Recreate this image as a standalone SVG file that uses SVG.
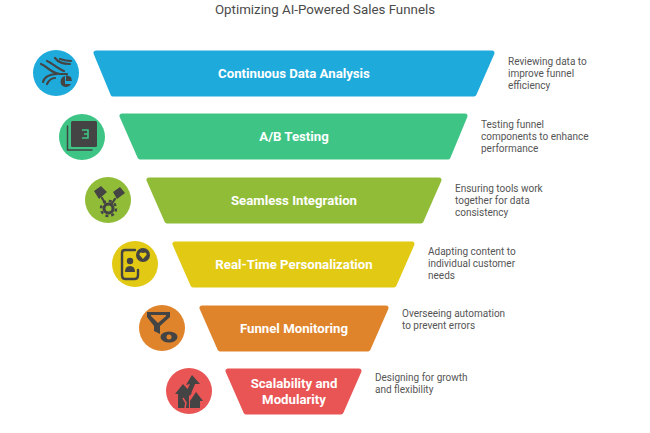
<svg xmlns="http://www.w3.org/2000/svg" width="650" height="433" viewBox="0 0 650 433">
<style>
text{font-family:Roboto,"Liberation Sans",sans-serif}
.t{font-size:13.300px;fill:#4a4a4a;text-anchor:middle}
.l{font-size:13.200px;font-weight:700;fill:#fff;text-anchor:middle}
.d{font-size:10px;fill:#555}
.i{fill:#444}
.s{fill:none;stroke:#444;stroke-linecap:round;stroke-width:2.200}
.f{stroke-linejoin:round;stroke-width:5}
</style>
<rect width="650" height="433" fill="#fff"/>
<text class="t" x="325" y="14">Optimizing AI-Powered Sales Funnels</text>
<g id="n1">
<path class="f" fill="#1faadc" stroke="#1faadc" d="M96 53H492L474 94H113Z"/>
<text class="l" x="294" y="78">Continuous Data Analysis</text>
<circle cx="56" cy="73" r="23" fill="#1faadc"/>
<path class="s" d="M47 61C52 63 58 69 64 71M55 58C58 62 64 64 70 64M60 59C63 60 68 61 71 61M41 64C47 66 50 73 60 74H67M43 82C44 77 50 74 57 74M47 84C49 80 52 78 55 78"/>
<path class="i" d="M66 76A5.500 5.500 0 1 0 71 84H65V76Z M66 75L71 77L72 81L66 81Z"/>
<text class="d" x="508" y="65">Reviewing data to</text><text class="d" x="508" y="77">improve funnel</text><text class="d" x="508" y="89">efficiency</text>
</g>
<g id="n2">
<path class="f" fill="#3ec585" stroke="#3ec585" d="M122 116H465L448 157H140Z"/>
<text class="l" x="294" y="141">A/B Testing</text>
<circle cx="82" cy="137" r="23" fill="#3ec585"/>
<rect class="i" x="71" y="121" width="26" height="26" rx="1.500"/>
<path class="s" d="M67.500 126V150H92" style="stroke-width:1.500"/>
<path d="M82 130H88V138H82M84 134H88" fill="none" stroke="#3ec585" stroke-width="1.600"/>
<text class="d" x="481" y="128">Testing funnel</text><text class="d" x="481" y="140">components to enhance</text><text class="d" x="481" y="152">performance</text>
</g>
<g id="n3">
<path class="f" fill="#90bc38" stroke="#90bc38" d="M149 180H439L421 221H167Z"/>
<text class="l" x="294" y="205">Seamless Integration</text>
<circle cx="108" cy="200" r="23" fill="#90bc38"/>
<path class="i" d="M94 191L101 186L107 192L99 199Z M113 192L120 187L125 193L117 199Z"/>
<path class="s" d="M102 198L105 203M115 199L112 203" stroke-dasharray="2 1.500"/>
<circle cx="108.500" cy="208.500" r="4.500" fill="none" stroke="#444" stroke-width="3"/>
<circle cx="108.500" cy="208.500" r="7.500" fill="none" stroke="#444" stroke-width="2.500" stroke-dasharray="3 2.900"/>
<text class="d" x="455" y="192">Ensuring tools work</text><text class="d" x="455" y="204">together for data</text><text class="d" x="455" y="216">consistency</text>
</g>
<g id="n4">
<path class="f" fill="#e2c914" stroke="#e2c914" d="M175 244H412L394 285H193Z"/>
<text class="l" x="294" y="269">Real-Time Personalization</text>
<circle cx="135" cy="264" r="23" fill="#e2c914"/>
<path class="s" style="stroke-width:2.400" d="M135 250H125Q122 250 122 253V275Q122 279 125 279H135Q138 279 138 275V270"/>
<circle class="i" cx="130" cy="261" r="3.200"/>
<path class="i" d="M125 272Q125 266 130 266Q135 266 135 272Z"/>
<circle cx="143" cy="255" r="7" fill="#444"/>
<path d="M143 259L139.500 255Q139 251.500 143 253Q147 251.500 146.500 255Z" fill="#e2c914"/>
<text class="d" x="428" y="255">Adapting content to</text><text class="d" x="428" y="267">individual customer</text><text class="d" x="428" y="279">needs</text>
</g>
<g id="n5">
<path class="f" fill="#e0842c" stroke="#e0842c" d="M202 308H386L368 349H220Z"/>
<text class="l" x="294" y="333">Funnel Monitoring</text>
<circle cx="162" cy="328" r="23" fill="#e0842c"/>
<path class="i" d="M147 312H170V317L160 326V334L154 331V326L147 317Z"/>
<path d="M151 315H166V316L158 323L151 316Z" fill="#e0842c"/>
<ellipse class="i" cx="169" cy="337" rx="8.500" ry="5.500"/>
<circle cx="169" cy="337" r="2.500" fill="#e0842c"/>
<text class="d" x="402" y="317">Overseeing automation</text><text class="d" x="402" y="329">to prevent errors</text>
</g>
<g id="n6">
<path class="f" fill="#e95455" stroke="#e95455" d="M228 371H359L341 412H246Z"/>
<text class="l" x="294" y="388">Scalability and</text><text class="l" x="294" y="404">Modularity</text>
<circle cx="189" cy="391" r="23" fill="#e95455"/>
<path class="i" d="M175 394L183 384L192 394H189V408H178V394Z"/>
<path class="i" d="M192 375L200 384L195 384L190 396L186 392L190 384L186 385Z"/>
<path class="i" d="M190 401L196 392L203 401H200V408H190Z"/>
<path d="M183 398L186 403L185 408" fill="none" stroke="#e95455" stroke-width="1.500"/>
<text class="d" x="375" y="381">Designing for growth</text><text class="d" x="375" y="393">and flexibility</text>
</g>
</svg>
